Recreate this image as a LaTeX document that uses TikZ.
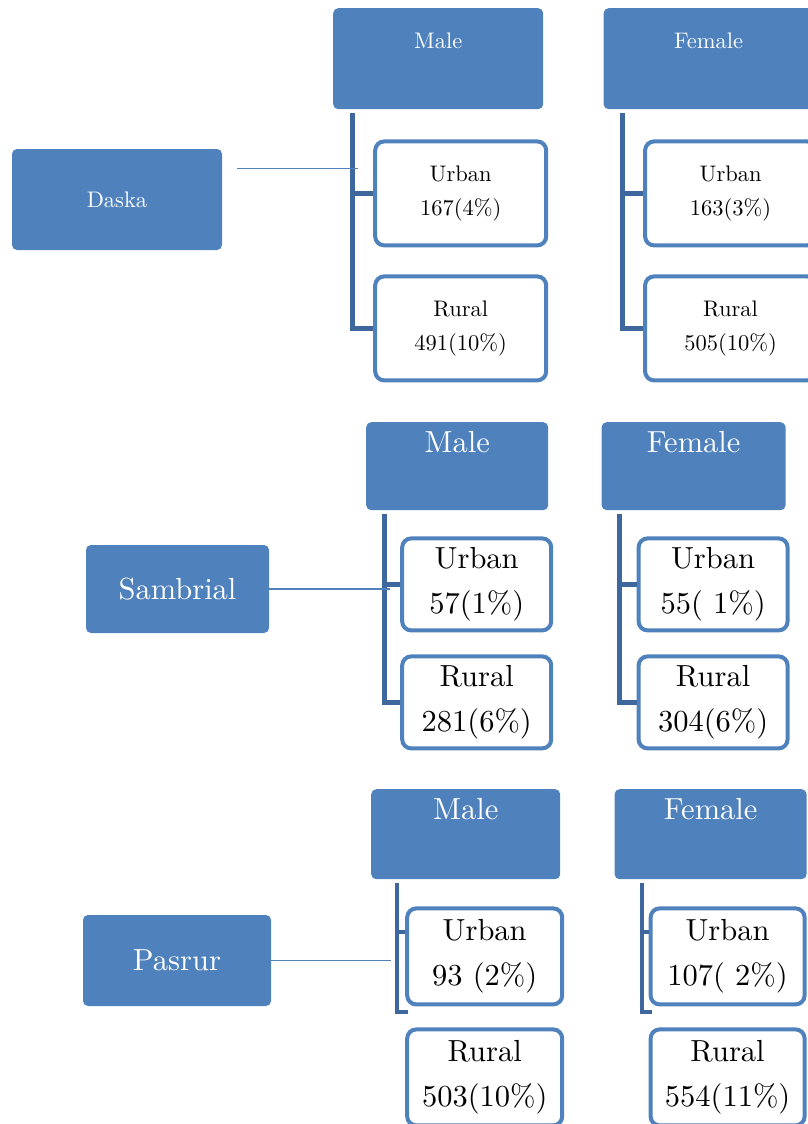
\documentclass[tikz,border=0pt]{standalone}
\usepackage{fontspec}
\setmainfont{lmroman10-regular.otf}
\usetikzlibrary{positioning}
\definecolor{hdblue}{RGB}{79,129,189}
\definecolor{brdark}{RGB}{62,103,158}
\newcommand\rowonefont{\fontsize{22.5}{34}\selectfont}
\newcommand\rowtwofont{\fontsize{30.5}{45}\selectfont}

\begin{document}
\begin{tikzpicture}[
  x=1pt, y=-1pt,
  head/.style={fill=hdblue, text=white, rounded corners=5pt, inner sep=0pt},
  leaf/.style={draw=hdblue, line width=4pt, fill=white, rounded corners=9pt, align=center, inner sep=0pt},
  bracket/.style={draw=brdark, line width=5pt},
  link/.style={draw=hdblue, line width=1.6pt}
]
\useasboundingbox (0,0) rectangle (808,1124);

\node[head, font=\rowonefont, anchor=north west, minimum width=210pt, text height=40pt, text depth=61pt] (m1) at (333,8) {Male};
\node[head, font=\rowonefont, minimum width=210pt, text height=40pt, text depth=61pt, right=60pt of m1] (f1) {Female};
\node[head, font=\rowonefont, minimum width=210pt, minimum height=101pt] (d1) at (117,199.5) {Daska};
\node[leaf, font=\rowonefont, minimum width=171pt, minimum height=104pt, below=30pt of m1, xshift=22.5pt] (mu1) {Urban\\167(4\%)};
\node[leaf, font=\rowonefont, minimum width=171pt, minimum height=104pt, below=27pt of mu1] (mr1) {Rural\\491(10\%)};
\node[leaf, font=\rowonefont, minimum width=171pt, minimum height=104pt, below=30pt of f1, xshift=22pt] (fu1) {Urban\\163(3\%)};
\node[leaf, font=\rowonefont, minimum width=171pt, minimum height=104pt, below=27pt of fu1] (fr1) {Rural\\505(10\%)};
\draw[bracket] ([xshift=19pt,yshift=-4pt]m1.south west) |- (mu1.west);
\draw[bracket] ([xshift=19pt,yshift=-4pt]m1.south west) |- (mr1.west);
\draw[bracket] ([xshift=19pt,yshift=-4pt]f1.south west) |- (fu1.west);
\draw[bracket] ([xshift=19pt,yshift=-4pt]f1.south west) |- (fr1.west);
\draw[link] ([xshift=15pt,yshift=31pt]d1.east) -- ([xshift=-15pt,yshift=31pt]d1.east -| mu1.west);

\node[head, font=\rowtwofont, anchor=north west, minimum width=182pt, text height=30pt, text depth=58pt] (m2) at (366,422) {Male};
\node[head, font=\rowtwofont, minimum width=184pt, text height=30pt, text depth=58pt, right=53pt of m2] (f2) {Female};
\node[head, font=\rowtwofont, minimum width=183pt, minimum height=88pt] (d2) at (177.5,589) {Sambrial};
\node[leaf, font=\rowtwofont, minimum width=149pt, minimum height=92pt, below=26pt of m2, xshift=19.5pt] (mu2) {Urban\\57(1\%)};
\node[leaf, font=\rowtwofont, minimum width=149pt, minimum height=92pt, below=22pt of mu2] (mr2) {Rural\\281(6\%)};
\node[leaf, font=\rowtwofont, minimum width=149pt, minimum height=92pt, below=26pt of f2, xshift=19.5pt] (fu2) {Urban\\55( 1\%)};
\node[leaf, font=\rowtwofont, minimum width=149pt, minimum height=92pt, below=22pt of fu2] (fr2) {Rural\\304(6\%)};
\draw[bracket] ([xshift=18pt,yshift=-4pt]m2.south west) |- (mu2.west);
\draw[bracket] ([xshift=18pt,yshift=-4pt]m2.south west) |- (mr2.west);
\draw[bracket] ([xshift=18pt,yshift=-4pt]f2.south west) |- (fu2.west);
\draw[bracket] ([xshift=18pt,yshift=-4pt]f2.south west) |- (fr2.west);
\draw[link] (d2.east) -- ([xshift=-10pt]d2.east -| mu2.west);

\node[head, font=\rowtwofont, anchor=north west, minimum width=189pt, text height=30pt, text depth=60pt] (m3) at (371,789) {Male};
\node[head, font=\rowtwofont, minimum width=192pt, text height=30pt, text depth=60pt, right=54pt of m3] (f3) {Female};
\node[head, font=\rowtwofont, minimum width=188pt, minimum height=91pt] (d3) at (177,960.5) {Pasrur};
\node[leaf, font=\rowtwofont, minimum width=155pt, minimum height=96pt, below=27pt of m3, xshift=19pt] (mu3) {Urban\\93 (2\%)};
\node[leaf, font=\rowtwofont, minimum width=155pt, minimum height=96pt, below=21pt of mu3] (mr3) {Rural\\503(10\%)};
\node[leaf, font=\rowtwofont, minimum width=154pt, minimum height=96pt, below=27pt of f3, xshift=17pt] (fu3) {Urban\\107( 2\%)};
\node[leaf, font=\rowtwofont, minimum width=154pt, minimum height=96pt, below=21pt of fu3] (fr3) {Rural\\554(11\%)};
\draw[bracket, line width=4pt] ([xshift=26pt,yshift=-4pt]m3.south west) |- ([yshift=24pt]mu3.west);
\draw[bracket, line width=4pt] ([xshift=26pt,yshift=-4pt]m3.south west) |- ([xshift=3pt,yshift=-6pt]mu3.south west);
\draw[bracket, line width=4pt] ([xshift=28pt,yshift=-4pt]f3.south west) |- ([yshift=24pt]fu3.west);
\draw[bracket, line width=4pt] ([xshift=28pt,yshift=-4pt]f3.south west) |- ([xshift=3pt,yshift=-6pt]fu3.south west);
\draw[link] (d3.east) -- ([xshift=-14pt]d3.east -| mu3.west);
\end{tikzpicture}
\end{document}
